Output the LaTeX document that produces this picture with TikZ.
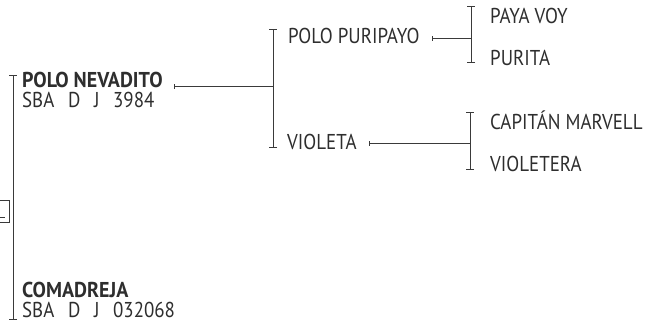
\documentclass[tikz,border=0pt]{standalone}
\usepackage{fontspec}
\setmainfont{PT Sans}[FakeStretch=0.88, BoldFeatures={FakeStretch=0.93}]
\usetikzlibrary{arrows.meta}
\definecolor{txt}{HTML}{2E2E2E}
\definecolor{ln}{HTML}{3A3A3A}
\tikzset{
  lbl/.style={anchor=base west, inner sep=0pt, text=txt, font=\fontsize{21.5}{23}\selectfont},
  blbl/.style={lbl, font=\fontsize{21.5}{23}\selectfont\bfseries},
  conn/.style={draw=ln, line width=1pt, {Bar[width=5pt,line width=1pt]}-},
  brk/.style={draw=ln, line width=1pt, {Bar[width=8pt,line width=1pt]}-{Bar[width=8pt,line width=1pt]}},
  rootbox/.style={draw=ln, line width=1pt}
}
\begin{document}
\begin{tikzpicture}[x=1pt,y=-1pt]
\useasboundingbox (0,0) rectangle (651,325);
% root box (cut off on the left)
\draw[rootbox] (-10,200.5) rectangle (9.5,222.5);
\coordinate (rd1) at (0,217.5);
\coordinate (rd2) at (4.5,217.5);
\draw[draw=ln, line width=1.4pt] (rd1) -- (rd2);
% generation 1
\node[blbl] (nev) at (22,87) {POLO NEVADITO};
\node[lbl] (nevr) at (22,107) {SBA\hspace{0.4em} D\hspace{0.4em} J\hspace{0.4em} 3984};
\node[blbl] (com) at (22,297) {COMADREJA};
\node[lbl] (comr) at (22,317) {SBA\hspace{0.4em} D\hspace{0.4em} J\hspace{0.4em} 032068};
\coordinate (b0t) at (13,75);
\coordinate (b0b) at (13,320);
\draw[brk] (b0t) -- (b0b);
% generation 2
\node[lbl] (pur) at (288,43) {POLO PURIPAYO};
\node[lbl] (vio) at (287,149) {VIOLETA};
\coordinate (b1t) at (273,29);
\coordinate (b1b) at (273,148);
\draw[brk] (b1t) -- (b1b);
\coordinate (nevt) at (174,86);
\coordinate (b1m) at (273,86);
\draw[conn] (nevt) -- (b1m);
% generation 3
\node[lbl] (pay) at (490,23) {PAYA VOY};
\node[lbl] (puri) at (490,65) {PURITA};
\node[lbl] (cap) at (490,129) {CAPITÁN MARVELL};
\node[lbl] (vlt) at (490,171) {VIOLETERA};
\coordinate (b2t) at (471,6);
\coordinate (b2b) at (471,63);
\draw[brk] (b2t) -- (b2b);
\coordinate (purt) at (432,38);
\coordinate (b2m) at (471,38);
\draw[conn] (purt) -- (b2m);
\coordinate (b3t) at (470,112);
\coordinate (b3b) at (470,170);
\draw[brk] (b3t) -- (b3b);
\coordinate (viot) at (369,143);
\coordinate (b3m) at (470,143);
\draw[conn] (viot) -- (b3m);
\end{tikzpicture}
\end{document}
